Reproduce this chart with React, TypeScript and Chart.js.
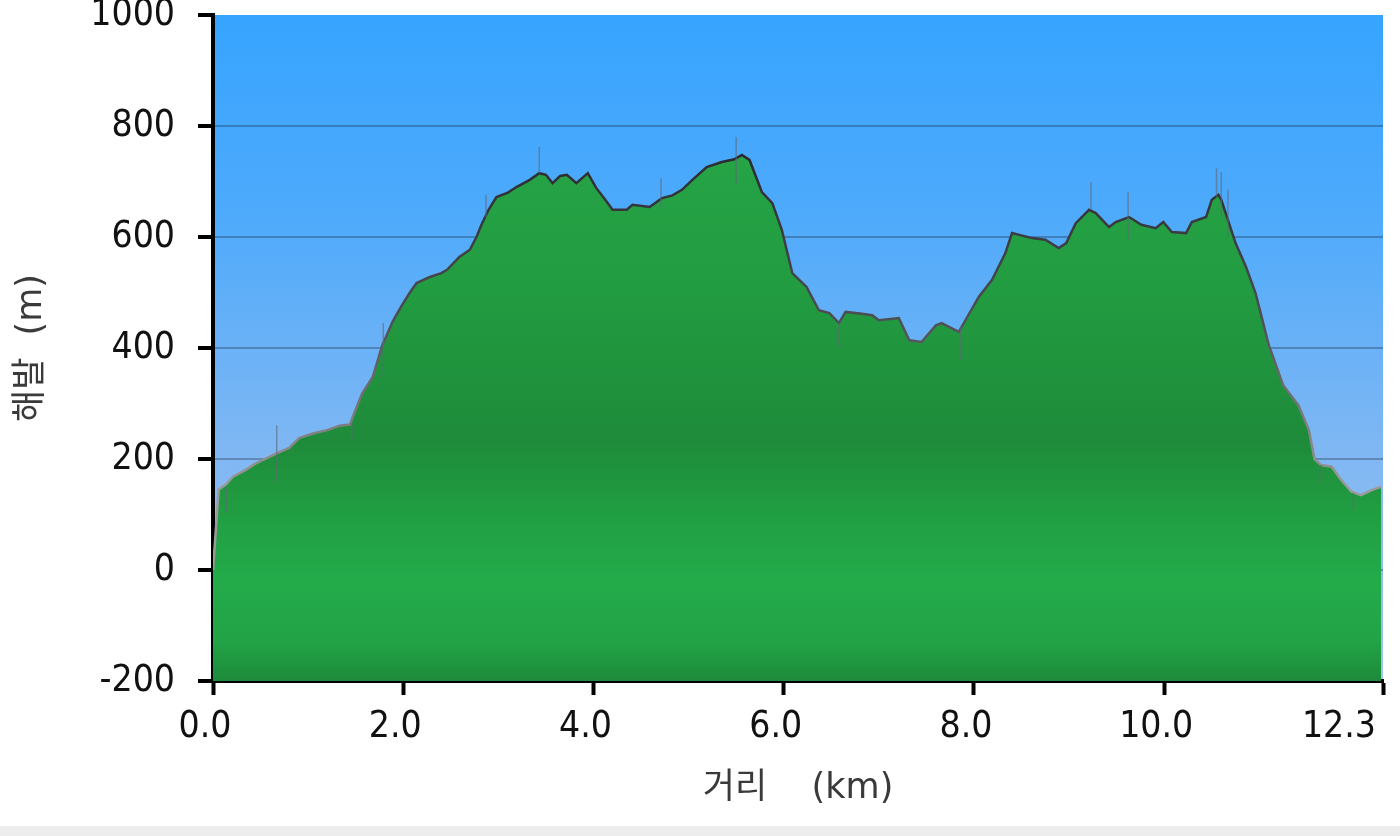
import { useEffect, useRef } from 'react';
import { Chart, registerables } from 'chart.js';

Chart.register(...registerables);

// ---- data ----
const distanceKm = [
  0.0, 0.06, 0.14, 0.21, 0.34, 0.45, 0.57, 0.67, 0.8, 0.91, 1.05, 1.2, 1.33, 1.44, 1.47, 1.57, 1.68, 1.78, 1.89, 1.99,
  2.07, 2.14, 2.28, 2.4, 2.46, 2.59, 2.7, 2.77, 2.83, 2.9, 2.98, 3.1, 3.19, 3.33, 3.43, 3.5, 3.57, 3.65, 3.72, 3.82,
  3.94, 4.03, 4.12, 4.2, 4.35, 4.41, 4.59, 4.72, 4.83, 4.93, 5.04, 5.19, 5.35, 5.48, 5.56, 5.64, 5.77, 5.88, 5.98, 6.09,
  6.24, 6.37, 6.48, 6.58, 6.65, 6.8, 6.93, 7.0, 7.21, 7.32, 7.45, 7.6, 7.66, 7.84, 7.91, 8.05, 8.19, 8.33, 8.4, 8.61,
  8.75, 8.89, 8.97, 9.07, 9.21, 9.28, 9.42, 9.49, 9.63, 9.76, 9.91, 9.99, 10.08, 10.23, 10.29, 10.44, 10.5, 10.57, 10.6, 10.75,
  10.86, 10.96, 11.1, 11.25, 11.41, 11.52, 11.58, 11.65, 11.76, 11.86, 11.97, 12.07, 12.18, 12.28,
];
const elevationM = [
  0, 145, 155, 168, 180, 192, 202, 210, 220, 238, 246, 252, 260, 262, 276, 319, 348, 405, 448, 478,
  500, 517, 528, 535, 541, 564, 577, 600, 625, 650, 672, 680, 690, 703, 715, 712, 697, 710, 712, 697,
  715, 688, 668, 649, 649, 658, 654, 670, 675, 685, 703, 726, 735, 740, 748, 739, 681, 661, 613, 535,
  510, 468, 463, 445, 465, 462, 459, 450, 454, 414, 411, 441, 445, 429, 450, 492, 523, 571, 607, 598,
  595, 580, 589, 625, 649, 643, 618, 627, 636, 622, 616, 627, 609, 607, 627, 636, 667, 676, 667, 589,
  546, 499, 405, 333, 297, 252, 200, 189, 186, 162, 141, 135, 144, 150,
];
// raw GPS spikes (thin grey strokes)
const spikeKm = [0.14, 0.67, 1.46, 1.79, 2.87, 3.43, 4.71, 5.5, 6.58, 7.86, 9.23, 9.62, 10.55, 10.6, 10.67, 11.65, 11.99];
const spikeTopM = [150, 261, 265, 445, 676, 762, 706, 780, 445, 438, 699, 681, 724, 717, 685, 189, 139];
const spikeBottomM = [103, 158, 234, 348, 636, 715, 654, 694, 402, 378, 649, 595, 672, 636, 600, 157, 108];

const xTickValues = [0, 2, 4, 6, 8, 10, 12.3];
const yMin = -200;
const yMax = 1000;
const yStep = 200;
const xMax = 12.3;
const xTitle = '거리    (km)';
const yTitle = '해발  (m)';

const tickFamily = '"DejaVu Sans Condensed", "DejaVu Sans", sans-serif';
const titleFamily = '"DejaVu Sans", "Noto Sans CJK KR", sans-serif';
const tickSize = 37;

const plotBackground = {
  id: 'plotBackground',
  beforeDraw(chart: any) {
    const { ctx, chartArea: a } = chart;
    if (!a) return;
    const g = ctx.createLinearGradient(0, a.top, 0, a.bottom);
    g.addColorStop(0, '#37a4ff');
    g.addColorStop(0.3, '#4eaafb');
    g.addColorStop(0.65, '#7fb7f3');
    g.addColorStop(1, '#a0c4ee');
    ctx.save();
    ctx.fillStyle = g;
    ctx.fillRect(a.left, a.top, a.right - a.left, a.bottom - a.top);
    ctx.restore();
  },
};

const xTickLabels = {
  id: 'xTickLabels',
  afterDraw(chart: any) {
    const s = chart.scales.x;
    const ctx = chart.ctx;
    ctx.save();
    ctx.font = `${tickSize}px ${tickFamily}`;
    ctx.fillStyle = '#111';
    ctx.textBaseline = 'alphabetic';
    const n = s.ticks.length;
    s.ticks.forEach((t: any, i: number) => {
      const px = s.getPixelForValue(t.value);
      const last = i === n - 1;
      ctx.textAlign = last ? 'right' : 'center';
      ctx.fillText(Number(t.value).toFixed(1), last ? px - 7 : px - 8, 737);
    });
    ctx.restore();
  },
};

export default function App() {
  const ref = useRef<HTMLCanvasElement | null>(null);

  useEffect(() => {
    if (!ref.current) return;
    const profile = distanceKm.map((x, i) => ({ x, y: elevationM[i] }));
    const spikes: any[] = [];
    spikeKm.forEach((x, i) => {
      spikes.push({ x, y: spikeTopM[i] });
      spikes.push({ x, y: spikeBottomM[i] });
      spikes.push({ x, y: null });
    });

    const chart = new Chart(ref.current, {
      type: 'line',
      data: {
        datasets: [
          {
            data: spikes,
            borderColor: 'rgba(95,105,120,0.6)',
            borderWidth: 1.5,
            pointRadius: 0,
            fill: false,
            spanGaps: false,
          },
          {
            data: profile,
            borderWidth: 2.5,
            pointRadius: 0,
            tension: 0,
            fill: 'start',
            borderColor: (c: any) => {
              const { chart: ch } = c;
              const a = ch.chartArea;
              if (!a) return '#444';
              const y = ch.scales.y;
              const g = ch.ctx.createLinearGradient(0, y.getPixelForValue(750), 0, y.getPixelForValue(150));
              g.addColorStop(0, '#2a2a30');
              g.addColorStop(0.5, '#4d4f55');
              g.addColorStop(1, '#9a9a9a');
              return g;
            },
            backgroundColor: (c: any) => {
              const a = c.chart.chartArea;
              if (!a) return '#22a044';
              const g = c.chart.ctx.createLinearGradient(0, a.top, 0, a.bottom);
              g.addColorStop(0, '#27a547');
              g.addColorStop(0.2, '#26a446');
              g.addColorStop(0.41, '#229c41');
              g.addColorStop(0.64, '#1e8b3a');
              g.addColorStop(0.76, '#21a043');
              g.addColorStop(0.85, '#23ab4a');
              g.addColorStop(0.94, '#22a346');
              g.addColorStop(1, '#1d8a3a');
              return g;
            },
          },
        ],
      },
      options: {
        animation: false,
        responsive: true,
        maintainAspectRatio: false,
        layout: { padding: { top: 15, right: 17, left: 0, bottom: 0 } },
        plugins: { legend: { display: false }, tooltip: { enabled: false } },
        scales: {
          x: {
            type: 'linear',
            min: 0,
            max: xMax,
            z: 1,
            afterBuildTicks(s: any) {
              s.ticks = xTickValues.map((v) => ({ value: v }));
            },
            ticks: { display: false },
            grid: { drawOnChartArea: false, drawTicks: true, tickLength: 14, tickColor: '#000', tickWidth: 4 },
            border: { display: true, color: '#000', width: 4 },
            title: {
              display: true,
              text: xTitle,
              color: '#3a3a3a',
              font: { family: titleFamily, size: 35 },
              padding: { top: 0, bottom: 16 },
            },
            afterFit(s: any) {
              s.height = 145;
              s.paddingLeft = 0;
              s.paddingRight = 0;
            },
          },
          y: {
            type: 'linear',
            min: yMin,
            max: yMax,
            z: 1,
            ticks: {
              stepSize: yStep,
              color: '#111',
              font: { family: tickFamily, size: tickSize },
              padding: 23,
              callback: (v: any) => String(v),
            },
            grid: {
              color: (c: any) => (c.tick && c.tick.value === yMax ? 'rgba(0,0,0,0)' : 'rgba(0,0,0,0.25)'),
              lineWidth: 2,
              drawTicks: true,
              tickLength: 15,
              tickColor: '#000',
              tickWidth: 4,
            },
            border: { display: true, color: '#000', width: 4 },
            title: {
              display: true,
              text: yTitle,
              color: '#3a3a3a',
              font: { family: titleFamily, size: 35 },
              padding: { top: 11, bottom: 0 },
            },
            afterFit(s: any) {
              s.width = 213;
              s.paddingTop = 0;
              s.paddingBottom = 0;
            },
          },
        },
      },
      plugins: [plotBackground, xTickLabels],
    } as any);
    return () => chart.destroy();
  }, []);

  return (
    <>
      <div style={{ position: 'absolute', left: 0, top: 0, width: 1400, height: 826, background: '#fff' }}>
        <canvas ref={ref} />
      </div>
      <div style={{ position: 'absolute', left: 0, top: 826, width: 1400, height: 10, background: '#ededed' }} />
    </>
  );
}
